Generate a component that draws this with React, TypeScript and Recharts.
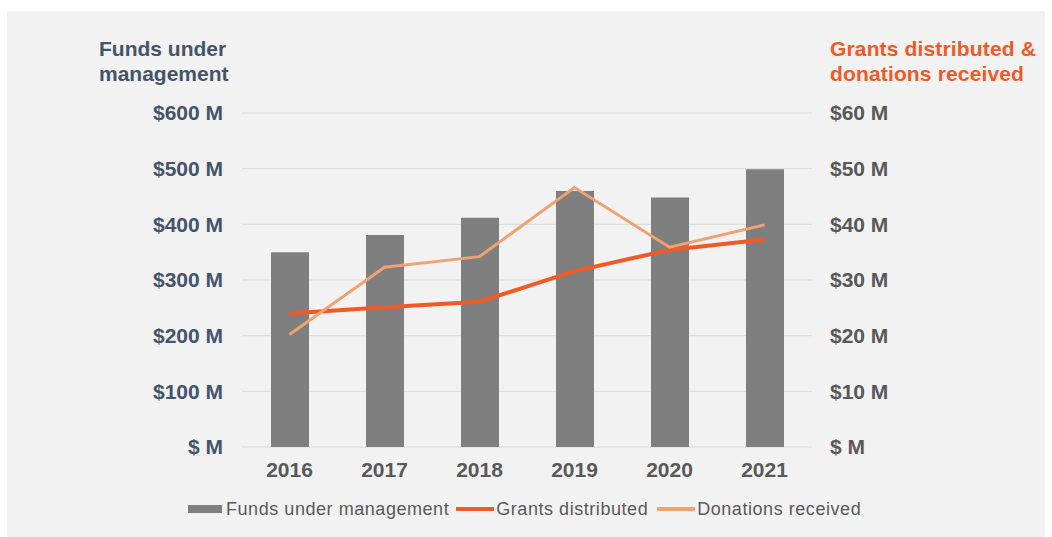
import { Bar, CartesianGrid, ComposedChart, Line, XAxis, YAxis } from 'recharts';

const years = ['2016', '2017', '2018', '2019', '2020', '2021'];
const fundsUnderManagement = [350, 381, 412, 460, 448, 499];
const grantsDistributed = [24.0, 25.1, 26.1, 31.6, 35.4, 37.3];
const donationsReceived = [20.2, 32.3, 34.2, 46.6, 35.9, 39.9];
const leftTicks = [0, 100, 200, 300, 400, 500, 600];
const rightTicks = [0, 10, 20, 30, 40, 50, 60];

const FONT = '"Liberation Sans", Arial, sans-serif';
const GRAY = '#7f7f7f';
const RED = '#F15A24';
const PEACH = '#EFA373';
const SLATE = '#44546A';
const TEXT = '#595959';

const money = (v: number) => (v === 0 ? '$ M' : `$${v} M`);

export default function App() {
  const data = years.map((year, i) => ({
    year,
    funds: fundsUnderManagement[i],
    grants: grantsDistributed[i],
    donations: donationsReceived[i],
  }));
  const tickFont = { fontSize: 21, fontWeight: 700, fontFamily: FONT };
  const legendText = { fontSize: 18, fontFamily: FONT, color: TEXT, letterSpacing: 0.55, whiteSpace: 'nowrap' as const };

  return (
    <div style={{ position: 'absolute', left: 7, top: 11, width: 1038, height: 526, background: '#f2f2f2', fontFamily: FONT }}>
      <div style={{ position: 'absolute', left: 92, top: 26, fontSize: 21, fontWeight: 700, lineHeight: '24.5px', color: SLATE }}>
        Funds under
        <br />
        management
      </div>
      <div style={{ position: 'absolute', left: 823, top: 26, fontSize: 21, fontWeight: 700, lineHeight: '24.5px', color: RED, whiteSpace: 'nowrap', letterSpacing: 0.15 }}>
        Grants distributed &amp;
        <br />
        donations received
      </div>
      <ComposedChart width={1038} height={526} data={data} margin={{ top: 102, right: 0, bottom: 0, left: 0 }}>
        <CartesianGrid vertical={false} stroke="#d9d9d9" />
        <XAxis dataKey="year" height={90} tickLine={false} axisLine={false} tickSize={0} tickMargin={15} tick={{ ...tickFont, fill: TEXT }} />
        <YAxis
          width={235}
          domain={[0, 600]}
          ticks={leftTicks}
          interval={0}
          tickFormatter={money}
          tickLine={false}
          axisLine={false}
          tickSize={0}
          tickMargin={19}
          tick={{ ...tickFont, fill: SLATE }}
        />
        <YAxis
          yAxisId="right"
          orientation="right"
          width={233}
          domain={[0, 60]}
          ticks={rightTicks}
          interval={0}
          tickFormatter={money}
          tickLine={false}
          axisLine={false}
          tickSize={0}
          tickMargin={18}
          tick={{ ...tickFont, fill: TEXT }}
        />
        <Bar dataKey="funds" fill={GRAY} barSize={38} isAnimationActive={false} />
        <Line yAxisId="right" type="linear" dataKey="grants" stroke={RED} strokeWidth={4} dot={false} isAnimationActive={false} />
        <Line yAxisId="right" type="linear" dataKey="donations" stroke={PEACH} strokeWidth={3} dot={false} isAnimationActive={false} />
      </ComposedChart>
      <div style={{ position: 'absolute', left: 181, top: 487, height: 22, display: 'flex', alignItems: 'center' }}>
        <span style={{ width: 34, height: 8, background: GRAY, marginRight: 4 }} />
        <span style={legendText}>Funds under management</span>
        <span style={{ width: 38, height: 4, background: RED, marginLeft: 7, marginRight: 2 }} />
        <span style={legendText}>Grants distributed</span>
        <span style={{ width: 38, height: 4, background: PEACH, marginLeft: 9, marginRight: 2 }} />
        <span style={legendText}>Donations received</span>
      </div>
    </div>
  );
}
